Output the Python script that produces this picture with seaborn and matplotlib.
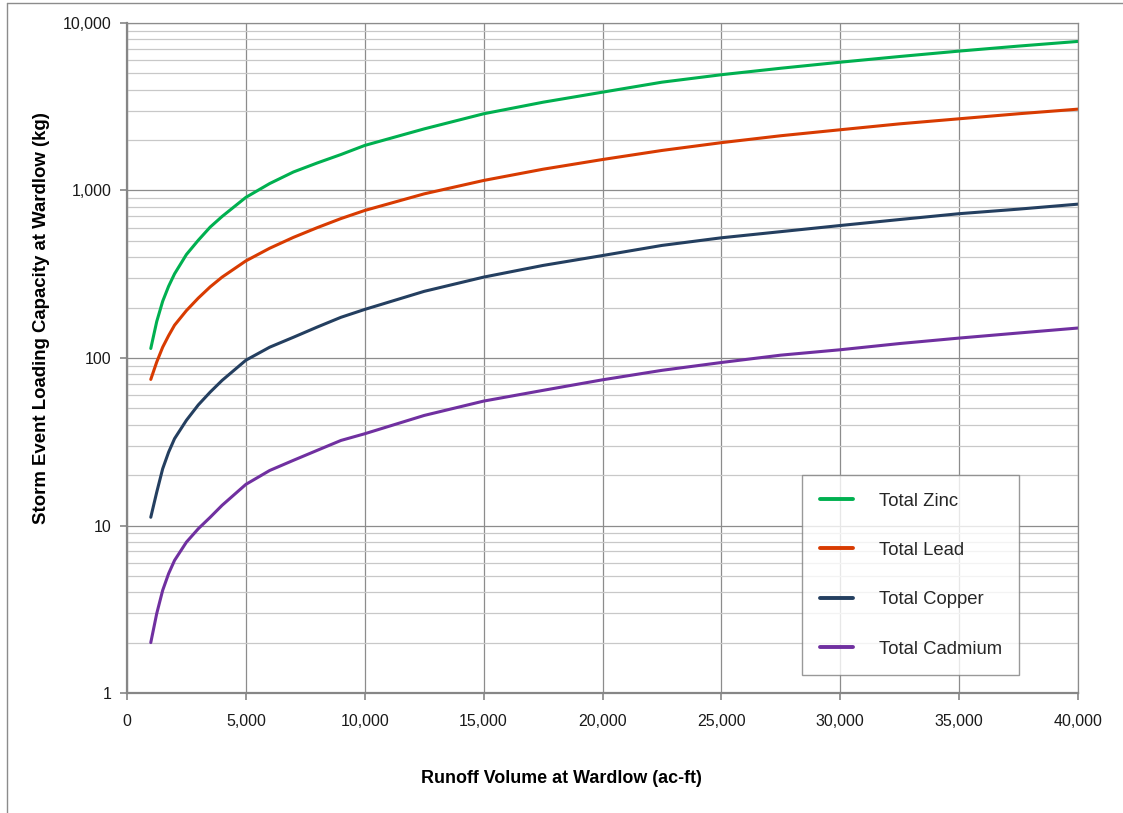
import numpy as np
import matplotlib
matplotlib.use("Agg")
import matplotlib.pyplot as plt
from matplotlib.lines import Line2D
from matplotlib.ticker import FuncFormatter, LogLocator, NullFormatter, MultipleLocator
import seaborn as sns
import pandas as pd

# values (ac-ft vs kg)
runoff_volume = [1000, 1250, 1500, 1750, 2000, 2500, 3000, 3500, 4000, 5000, 6000, 7000,
                 8000, 9000, 10000, 12500, 15000, 17500, 20000, 22500, 25000, 27500,
                 30000, 32500, 35000, 37500, 40000]
total_zinc = [114, 165, 218, 268, 318, 415, 505, 605, 700, 910, 1100, 1290,
              1460, 1640, 1858, 2333, 2871, 3366, 3864, 4433, 4911, 5370,
              5834, 6310, 6796, 7280, 7762]
total_lead = [74.5, 94.6, 116, 136, 157, 192, 228, 266, 304, 380, 452, 525,
              600, 680, 760, 955, 1148, 1340, 1531, 1734, 1930, 2123,
              2305, 2500, 2680, 2872, 3060]
total_copper = [11.2, 15.8, 21.8, 27.4, 33, 42.5, 52.5, 62.6, 73.5, 97, 116, 133,
                153, 175, 195, 250, 304, 357, 409, 470, 522, 568,
                618, 671, 727, 774, 829]
total_cadmium = [2.0, 2.98, 4.1, 5.16, 6.19, 7.96, 9.57, 11.2, 13.2, 17.6, 21.3, 24.5,
                 28.1, 32.2, 35.3, 45.4, 55.3, 64.1, 74.1, 84.4, 94, 104,
                 112, 122, 131.5, 141, 151]

series_names = ["Total Zinc", "Total Lead", "Total Copper", "Total Cadmium"]
series_colors = ["#00b050", "#d83b01", "#243f60", "#7030a0"]

frames = []
for name, vals in zip(series_names, [total_zinc, total_lead, total_copper, total_cadmium]):
    frames.append(pd.DataFrame({"volume": runoff_volume, "load": vals, "metal": name}))
df = pd.concat(frames, ignore_index=True)

sns.set_style("white")
plt.rcParams["font.family"] = ["Liberation Sans", "DejaVu Sans"]

fig = plt.figure(figsize=(11.23, 8.13), dpi=100)
ax = fig.add_axes([127 / 1123, 1 - 693 / 813, 951 / 1123, 670 / 813])

sns.lineplot(data=df, x="volume", y="load", hue="metal", hue_order=series_names,
             palette=series_colors, linewidth=2.2, ax=ax)

ax.set_yscale("log")
ax.set_ylim(1, 10000)
ax.set_xlim(0, 40000)
ax.xaxis.set_major_locator(MultipleLocator(5000))
ax.yaxis.set_major_locator(LogLocator(base=10, numticks=10))
ax.yaxis.set_minor_locator(LogLocator(base=10, subs=np.arange(2, 10), numticks=20))
ax.yaxis.set_minor_formatter(NullFormatter())
comma = FuncFormatter(lambda v, p: "{:,.0f}".format(v))
ax.xaxis.set_major_formatter(comma)
ax.yaxis.set_major_formatter(comma)

ax.grid(True, which="major", axis="both", color="#8c8c8c", linewidth=0.9)
ax.grid(True, which="minor", axis="y", color="#c8c8c8", linewidth=0.9)
ax.set_axisbelow(True)

ax.tick_params(axis="both", which="major", labelsize=11.5, length=5, width=1.2,
               color="#868686", labelcolor="#1a1a1a", direction="out", pad=6)
ax.tick_params(axis="y", which="minor", length=0)
ax.tick_params(axis="x", pad=10)
ax.tick_params(left=True, bottom=True)

for side in ["left", "bottom"]:
    ax.spines[side].set_color("#868686")
    ax.spines[side].set_linewidth(1.6)
for side in ["top", "right"]:
    ax.spines[side].set_color("#8c8c8c")
    ax.spines[side].set_linewidth(0.9)

ax.set_xlabel("")
ax.set_ylabel("")
fig.text(0.5, 1 - 778 / 813, "Runoff Volume at Wardlow (ac-ft)", ha="center", va="center",
         fontsize=12.9, fontweight="bold", color="#000000")
fig.text(42 / 1123, 1 - 318 / 813, "Storm Event Loading Capacity at Wardlow (kg)",
         ha="center", va="center", rotation=90, fontsize=13.4, fontweight="bold", color="#000000")

leg = ax.legend(loc="center", bbox_to_anchor=(0.824, 0.176), fontsize=13.3, frameon=True,
                fancybox=False, handlelength=1.8, handletextpad=1.4, labelspacing=1.75,
                borderpad=0.95)
leg.get_frame().set_edgecolor("#808080")
leg.get_frame().set_linewidth(1.0)
for h in leg.legend_handles:
    h.set_linewidth(2.8)

# outer chart border (only top and left edge visible in the crop)
fig.add_artist(Line2D([7 / 1123, 1], [1 - 3 / 813, 1 - 3 / 813], color="#8c8c8c",
                      linewidth=1.0, transform=fig.transFigure))
fig.add_artist(Line2D([7 / 1123, 7 / 1123], [0, 1 - 3 / 813], color="#8c8c8c",
                      linewidth=1.0, transform=fig.transFigure))

fig.savefig("out.png", dpi=100)
